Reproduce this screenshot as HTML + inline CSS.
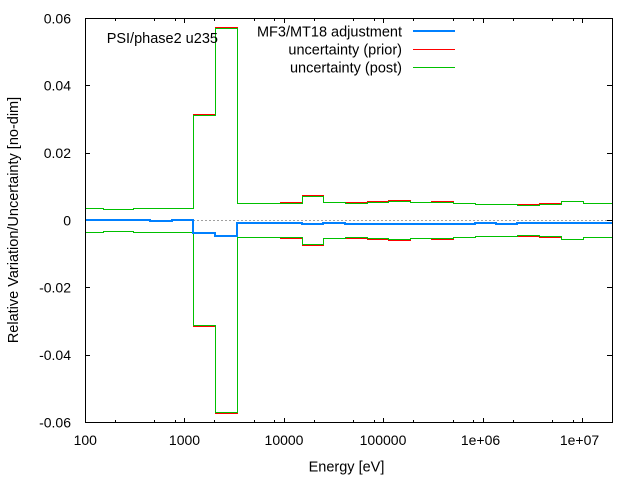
<!DOCTYPE html>
<html>
<head>
<meta charset="utf-8">
<style>
  html, body { margin: 0; padding: 0; background: #ffffff; }
  svg { display: block; }
  text { font-family: "Liberation Sans", Arial, sans-serif; fill: #000; }
</style>
</head>
<body>
<svg width="640" height="480" viewBox="0 0 640 480" xmlns="http://www.w3.org/2000/svg">
  <rect x="0" y="0" width="640" height="480" fill="#ffffff"/>

  <!-- zero axis (dashed gray) -->
  <path d="M85,220.5 H612" stroke="#a0a0a0" stroke-width="1" stroke-dasharray="2,2" fill="none" shape-rendering="crispEdges"/>

  <!-- ticks -->
  <g stroke="#000" stroke-width="1" fill="none" shape-rendering="crispEdges">
    <!-- left major y -->
    <path d="M85,18.5 H90 M85,85.5 H90 M85,153.5 H90 M85,220.5 H90 M85,287.5 H90 M85,355.5 H90 M85,422.5 H90"/>
    <!-- right major y -->
    <path d="M607,18.5 H612 M607,85.5 H612 M607,153.5 H612 M607,220.5 H612 M607,287.5 H612 M607,355.5 H612 M607,422.5 H612"/>
    <!-- bottom major x -->
    <path d="M85.5,418 V422 M184.5,418 V422 M284.5,418 V422 M383.5,418 V422 M483.5,418 V422 M582.5,418 V422"/>
    <!-- bottom minor x -->
    <path d="M115.5,420 V422 M154.5,420 V422 M175.5,420 V422 M214.5,420 V422 M254.5,420 V422 M274.5,420 V422 M314.5,420 V422 M353.5,420 V422 M374.5,420 V422 M413.5,420 V422 M453.5,420 V422 M473.5,420 V422 M513.5,420 V422 M552.5,420 V422 M573.5,420 V422"/>
    <!-- top major x -->
    <path d="M85.5,19 V23 M184.5,19 V23 M284.5,19 V23 M383.5,19 V23 M483.5,19 V23 M582.5,19 V23"/>
    <!-- top minor x -->
    <path d="M115.5,19 V21 M154.5,19 V21 M175.5,19 V21 M214.5,19 V21 M254.5,19 V21 M274.5,19 V21 M314.5,19 V21 M353.5,19 V21 M374.5,19 V21 M413.5,19 V21 M453.5,19 V21 M473.5,19 V21 M513.5,19 V21 M552.5,19 V21 M573.5,19 V21"/>
  </g>

  <!-- prior uncertainty (red) -->
  <g stroke="#ff0000" stroke-width="1" fill="none" shape-rendering="crispEdges">
    <path d="M85.5,208.5 H103.5 V209.5 H133.5 V208.5 H193.5 V114.5 H215.5 V27.5 H237.5 V203.5 H280.5 V202.5 H302.5 V195.5 H323.5 V202.5 H345.5 V202.5 H367.5 V201.5 H388.5 V200.5 H410.5 V202.5 H431.5 V201.5 H453.5 V203.5 H475.5 V204.5 H517.5 V204.5 H539.5 V203.5 H561.5 V201.5 H583.5 V203.5 H612.5"/>
    <path d="M85.5,232.5 H103.5 V231.5 H133.5 V232.5 H193.5 V326.5 H215.5 V413.5 H237.5 V237.5 H280.5 V238.5 H302.5 V245.5 H323.5 V238.5 H345.5 V238.5 H367.5 V239.5 H388.5 V240.5 H410.5 V238.5 H431.5 V239.5 H453.5 V237.5 H475.5 V236.5 H517.5 V236.5 H539.5 V237.5 H561.5 V239.5 H583.5 V237.5 H612.5"/>
    <path d="M413,49.5 H455"/>
  </g>

  <!-- post uncertainty (green) -->
  <g stroke="#00c000" stroke-width="1" fill="none" shape-rendering="crispEdges">
    <path d="M85.5,208.5 H103.5 V209.5 H133.5 V208.5 H193.5 V115.5 H215.5 V28.5 H237.5 V203.5 H302.5 V196.5 H323.5 V202.5 H345.5 V203.5 H367.5 V202.5 H388.5 V201.5 H410.5 V202.5 H453.5 V203.5 H475.5 V204.5 H517.5 V205.5 H539.5 V204.5 H561.5 V201.5 H583.5 V203.5 H612.5"/>
    <path d="M85.5,232.5 H103.5 V231.5 H133.5 V232.5 H193.5 V325.5 H215.5 V412.5 H237.5 V237.5 H302.5 V244.5 H323.5 V238.5 H345.5 V237.5 H367.5 V238.5 H388.5 V239.5 H410.5 V238.5 H453.5 V237.5 H475.5 V236.5 H517.5 V235.5 H539.5 V236.5 H561.5 V239.5 H583.5 V237.5 H612.5"/>
    <path d="M413,67.5 H455"/>
  </g>

  <!-- adjustment (blue) -->
  <g stroke="#0080ff" stroke-width="2" fill="none" shape-rendering="crispEdges" stroke-linejoin="miter">
    <path d="M85,220 H150 V221 H172 V220 H193 V233 H215 V236 H237 V223 H302 V224 H323 V223 H345 V224 H475 V223 H496 V224 H517 V223 H612"/>
    <path d="M413,31 H455"/>
  </g>

  <!-- frame -->
  <rect x="85.5" y="18.5" width="527" height="404" fill="none" stroke="#000" stroke-width="1" shape-rendering="crispEdges"/>

  <!-- y tick labels -->
  <g font-size="14" text-anchor="end">
    <text x="71" y="23.3">0.06</text>
    <text x="71" y="90.7">0.04</text>
    <text x="71" y="158">0.02</text>
    <text x="71" y="225.3">0</text>
    <text x="71" y="292.7">-0.02</text>
    <text x="71" y="360">-0.04</text>
    <text x="71" y="427.3">-0.06</text>
  </g>

  <!-- x tick labels -->
  <g font-size="14" text-anchor="middle">
    <text x="85.3" y="445">100</text>
    <text x="184.5" y="445">1000</text>
    <text x="284" y="445">10000</text>
    <text x="383" y="445">100000</text>
    <text x="480.5" y="445">1e+06</text>
    <text x="579.5" y="445">1e+07</text>
  </g>

  <!-- axis labels -->
  <text x="346.5" y="471.5" font-size="14.5" text-anchor="middle">Energy [eV]</text>
  <text transform="translate(18,220) rotate(-90)" font-size="14.5" text-anchor="middle">Relative Variation/Uncertainty [no-dim]</text>

  <!-- title label -->
  <text x="106.7" y="43" font-size="14.5">PSI/phase2 u235</text>

  <!-- legend -->
  <g font-size="14.5" text-anchor="end">
    <text x="402" y="36.5">MF3/MT18 adjustment</text>
    <text x="402" y="54.5">uncertainty (prior)</text>
    <text x="402" y="72.5">uncertainty (post)</text>
  </g>
</svg>
</body>
</html>
